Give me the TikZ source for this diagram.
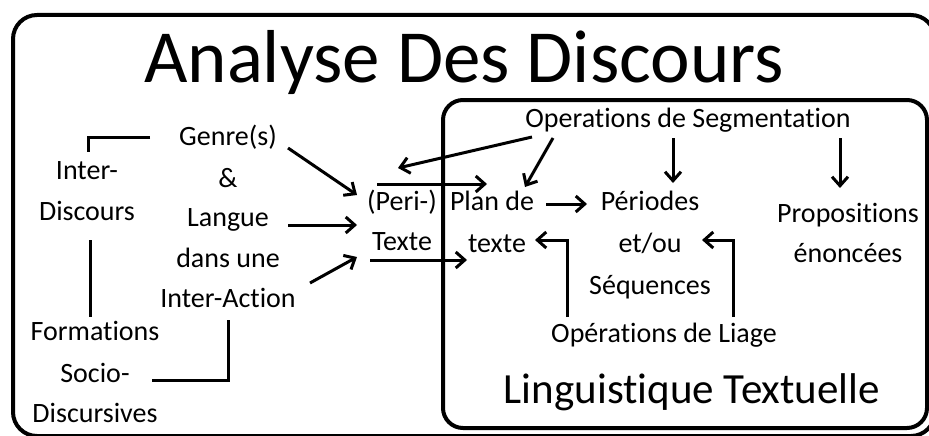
\documentclass[tikz,border=0pt]{standalone}
\usepackage{fontspec}
\setmainfont{Carlito}[Ligatures=CommonOff]
\usetikzlibrary{arrows.meta,calc}

\begin{document}
\begin{tikzpicture}[x=1pt,y=-1pt,line width=3pt,
  >={Straight Barb[length=9pt,width=16pt]},
  txt/.style={inner sep=0pt,font=\fontsize{28}{34}\selectfont,
    text height=19pt,text depth=5pt},
  big/.style={inner sep=0pt,anchor=base},
  frame/.style={line width=4pt,rounded corners=24pt}]

\useasboundingbox (0,0) rectangle (929,436);
\clip (0,0) rectangle (929,436);

% frames
\draw[frame] (13,15) rectangle (935,436);
\draw[frame,rounded corners=20pt] (443,100) rectangle (927,428);

\node[big,font=\fontsize{75}{80}\selectfont] (title) at (464,82) {Analyse Des Discours};
\node[big,font=\fontsize{43}{50}\selectfont] (ling) at (692,403) {Linguistique Textuelle};

% left part
\node[txt] (inter1) at (87,172) {Inter-};
\node[txt] (inter2) at (87,213) {Discours};
\node[txt] (form1) at (95,333) {Formations};
\node[txt] (form2) at (95,375) {Socio-};
\node[txt] (form3) at (95,415) {Discursives};

\node[txt] (genre) at (228,138) {Genre(s)};
\node[txt] (amp) at (228,180) {\&};
\node[txt] (langue) at (228,219) {Langue};
\node[txt] (dans) at (228,260) {dans une};
\node[txt] (interact) at (228,300) {Inter-Action};

\node[txt] (peri) at (402,203) {(Peri-)};
\node[txt] (texte) at (402,243) {Texte};

% right part
\node[txt] (segm) at (688,120) {Operations de Segmentation};
\node[txt] (plan) at (492,203) {Plan de};
\node[txt] (plantx) at (497,245) {texte};
\node[txt] (periodes) at (650,203) {Périodes};
\node[txt] (etou) at (650,245) {et/ou};
\node[txt] (sequences) at (650,287) {Séquences};
\node[txt] (props) at (848,215) {Propositions};
\node[txt] (enonc) at (848,255) {énoncées};
\node[txt] (liage) at (664,335) {Opérations de Liage};

% lines without heads
\draw ($(genre)+(-78,-1)$) -| ($(inter1)+(1,-20)$);
\draw ($(inter2)+(3,27)$) -- ($(form1)+(-5,-16)$);
\draw ($(interact)+(0,20)$) |- ($(form2)+(57,5)$);

% arrows
\path[->]
  ($(genre)+(60,10)$) edge ($(peri)+(-45,-8)$)
  ($(langue)+(60,6)$) edge ($(peri)+(-45,22)$)
  ($(interact)+(82,-17)$) edge ($(texte)+(-45,14)$)
  ($(peri)+(-25,-19)$) edge ($(plan)+(-5,-19)$)
  ($(texte)+(-32,17)$) edge ($(plantx)+(-30,15)$)
  ($(segm)+(-156,17)$) edge ($(peri)+(-4,-35)$)
  ($(segm)+(-135,18)$) edge ($(plan)+(33,-16)$)
  ($(segm)+(-15,18)$) edge ($(periodes)+(23,-20)$)
  ($(segm)+(152,18)$) edge ($(props)+(-8,-27)$)
  ($(plan)+(54,1)$) edge ($(periodes)+(-63,1)$);

\draw[->] ($(liage)+(-97,-18)$) |- ($(plantx)+(38,-5)$);
\draw[->] ($(liage)+(69,-18)$) |- ($(etou)+(52,-5)$);

\end{tikzpicture}
\end{document}
